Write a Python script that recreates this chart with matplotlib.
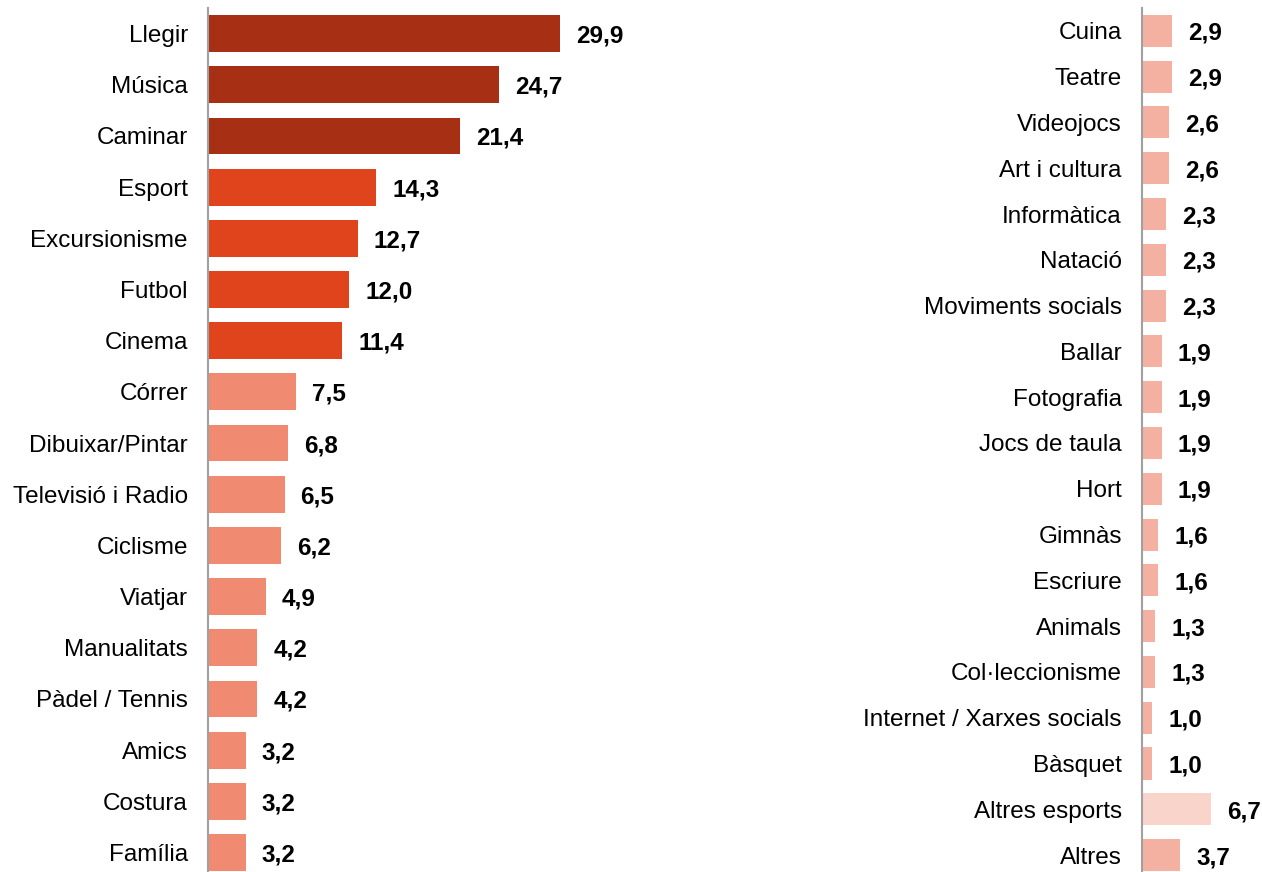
import matplotlib
matplotlib.use('Agg')
import matplotlib.pyplot as plt

plt.rcParams['font.family'] = ['Liberation Sans', 'DejaVu Sans']

left_labels = ['Llegir', 'Música', 'Caminar', 'Esport', 'Excursionisme', 'Futbol', 'Cinema',
               'Córrer', 'Dibuixar/Pintar', 'Televisió i Radio', 'Ciclisme', 'Viatjar',
               'Manualitats', 'Pàdel / Tennis', 'Amics', 'Costura', 'Família']
left_values = [29.9, 24.7, 21.4, 14.3, 12.7, 12.0, 11.4, 7.5, 6.8, 6.5, 6.2, 4.9,
               4.2, 4.2, 3.2, 3.2, 3.2]
left_groups = [0, 0, 0, 1, 1, 1, 1, 2, 2, 2, 2, 2, 2, 2, 2, 2, 2]

right_labels = ['Cuina', 'Teatre', 'Videojocs', 'Art i cultura', 'Informàtica', 'Natació',
                'Moviments socials', 'Ballar', 'Fotografia', 'Jocs de taula', 'Hort', 'Gimnàs',
                'Escriure', 'Animals', 'Col·leccionisme', 'Internet / Xarxes socials', 'Bàsquet',
                'Altres esports', 'Altres']
right_values = [2.9, 2.9, 2.6, 2.6, 2.3, 2.3, 2.3, 1.9, 1.9, 1.9, 1.9, 1.6, 1.6, 1.3, 1.3,
                1.0, 1.0, 6.7, 3.7]
right_groups = [3] * 17 + [4, 3]

palette = ['#A62F14', '#E0441C', '#F08A70', '#F4B0A0', '#F9D4CA']

W, H = 1262, 872
fig = plt.figure(figsize=(W / 100, H / 100), dpi=100)


def draw_panel(ax, labels, values, groups, height):
    ys = range(len(labels))
    ax.barh(ys, values, height=height, color=[palette[g] for g in groups])
    for y, v in zip(ys, values):
        ax.annotate(f'{v:.1f}'.replace('.', ','), (v, y), xytext=(11.5, 0),
                    textcoords='offset points', va='center_baseline', ha='left',
                    fontsize=17.5, fontweight='bold', color='black')
    ax.set_yticks(list(ys))
    ax.set_yticklabels(labels, fontsize=17.5)
    ax.tick_params(axis='y', length=0, pad=14.5)
    ax.set_xticks([])
    for s in ['top', 'right', 'bottom']:
        ax.spines[s].set_visible(False)
    ax.spines['left'].set_color('#A0A0A0')
    ax.spines['left'].set_linewidth(1.5)


# left panel: axis at x=208, 11.77 px per unit
ax1 = fig.add_axes([208 / W, 0, 471 / W, (H - 8) / H])
draw_panel(ax1, left_labels, left_values, left_groups, 0.72)
ax1.set_xlim(0, 40)
ax1.set_ylim(16.38, -0.5)

# right panel: axis at x=1142, 10.3 px per unit
ax2 = fig.add_axes([1142 / W, 0, 103 / W, (H - 8) / H])
draw_panel(ax2, right_labels, right_values, right_groups, 0.70)
ax2.set_xlim(0, 10)
ax2.set_ylim(18.37, -0.5)

fig.savefig('out.png', dpi=100)
